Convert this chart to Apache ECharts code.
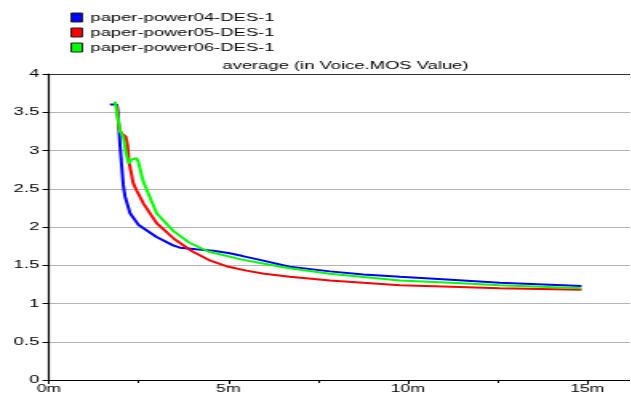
<!DOCTYPE html>
<html>
<head>
<meta charset="utf-8">
<script src="https://cdn.jsdelivr.net/npm/echarts@6/dist/echarts.min.js"></script>
<style>
  html, body { margin: 0; padding: 0; background: #fff; overflow: hidden; }
  /* the reference is stretched horizontally, so draw narrow and widen */
  #chart { width: 394.375px; height: 396px; transform: scaleX(1.6); transform-origin: 0 0; }
</style>
</head>
<body>
<div id="chart"></div>
<script>
// series names
var seriesNames = ['paper-power04-DES-1', 'paper-power05-DES-1', 'paper-power06-DES-1'];

// [minutes, MOS]
var power04 = [
  [1.70, 3.60], [1.89, 3.60], [1.93, 3.46], [1.98, 3.07], [2.07, 2.55], [2.12, 2.40],
  [2.26, 2.18], [2.49, 2.03], [3.00, 1.87], [3.46, 1.76], [3.65, 1.73], [4.10, 1.71],
  [4.58, 1.69], [5.00, 1.66], [5.40, 1.62], [5.97, 1.56], [6.71, 1.48], [7.83, 1.42],
  [8.76, 1.38], [9.78, 1.35], [11.2, 1.31], [12.56, 1.27], [14.84, 1.23]
];
var power05 = [
  [1.89, 3.59], [1.95, 3.29], [2.03, 3.22], [2.14, 3.18], [2.19, 3.07], [2.23, 2.85],
  [2.35, 2.57], [2.44, 2.48], [2.63, 2.31], [3.00, 2.05], [3.50, 1.84], [4.00, 1.68],
  [4.50, 1.56], [5.00, 1.48], [5.50, 1.43], [6.00, 1.39], [6.71, 1.35], [7.83, 1.30],
  [9.78, 1.24], [11.2, 1.22], [12.56, 1.20], [14.84, 1.18]
];
var power06 = [
  [1.84, 3.64], [1.91, 3.46], [1.98, 3.25], [2.07, 3.18], [2.16, 2.94], [2.23, 2.83],
  [2.30, 2.88], [2.44, 2.90], [2.49, 2.85], [2.63, 2.59], [3.00, 2.18], [3.46, 1.95],
  [3.93, 1.79], [4.44, 1.68], [5.32, 1.58], [6.00, 1.52], [6.71, 1.46], [7.83, 1.39],
  [9.78, 1.30], [11.2, 1.27], [12.56, 1.24], [14.84, 1.20]
];

var colors = ['#0000ff', '#ff0000', '#00ff00'];
var font = 'Liberation Sans, Arial, sans-serif';

var myChart = echarts.init(document.getElementById('chart'));
myChart.setOption({
  animation: false,
  color: colors,
  title: {
    text: 'average (in Voice.MOS Value)',
    left: 139,
    top: 60,
    padding: 0,
    textStyle: { fontFamily: font, fontSize: 11.5, fontWeight: 'normal', color: '#000' }
  },
  legend: {
    orient: 'vertical',
    left: 44,
    top: 11.5,
    padding: 0,
    icon: 'rect',
    itemWidth: 7,
    itemHeight: 9,
    itemGap: 3,
    itemStyle: { borderColor: '#222', borderWidth: 1 },
    textStyle: { fontFamily: font, fontSize: 11.5, color: '#000', padding: [0, 0, 0, 0] },
    data: seriesNames
  },
  grid: { left: 30.6, right: 0, top: 74, bottom: 16 },
  xAxis: {
    type: 'value',
    min: 0,
    max: 16.2,
    interval: 5,
    axisLine: { lineStyle: { color: '#000', width: 1 } },
    axisTick: { show: true, length: 4, lineStyle: { color: '#000' } },
    minorTick: { show: true, splitNumber: 2, length: 3, lineStyle: { color: '#000' } },
    splitLine: { show: false },
    axisLabel: {
      formatter: '{value}m',
      showMaxLabel: false,
      margin: 3,
      fontFamily: font,
      fontSize: 11,
      color: '#000'
    }
  },
  yAxis: {
    type: 'value',
    min: 0,
    max: 4,
    interval: 0.5,
    axisLine: { show: true, lineStyle: { color: '#000', width: 1.2 } },
    axisTick: { show: true, length: 4, lineStyle: { color: '#000' } },
    splitLine: {
      show: true,
      lineStyle: {
        color: ['#b4b4b4', '#b4b4b4', '#b4b4b4', '#b4b4b4', '#b4b4b4', '#b4b4b4', '#b4b4b4', '#b4b4b4', '#333'],
        width: 1
      }
    },
    axisLabel: { margin: 6, fontFamily: font, fontSize: 11.5, color: '#000' }
  },
  series: [
    { name: seriesNames[0], type: 'line', data: power04, showSymbol: false, lineStyle: { width: 2 } },
    { name: seriesNames[1], type: 'line', data: power05, showSymbol: false, lineStyle: { width: 2 } },
    { name: seriesNames[2], type: 'line', data: power06, showSymbol: false, lineStyle: { width: 2 } }
  ]
});
</script>
</body>
</html>
